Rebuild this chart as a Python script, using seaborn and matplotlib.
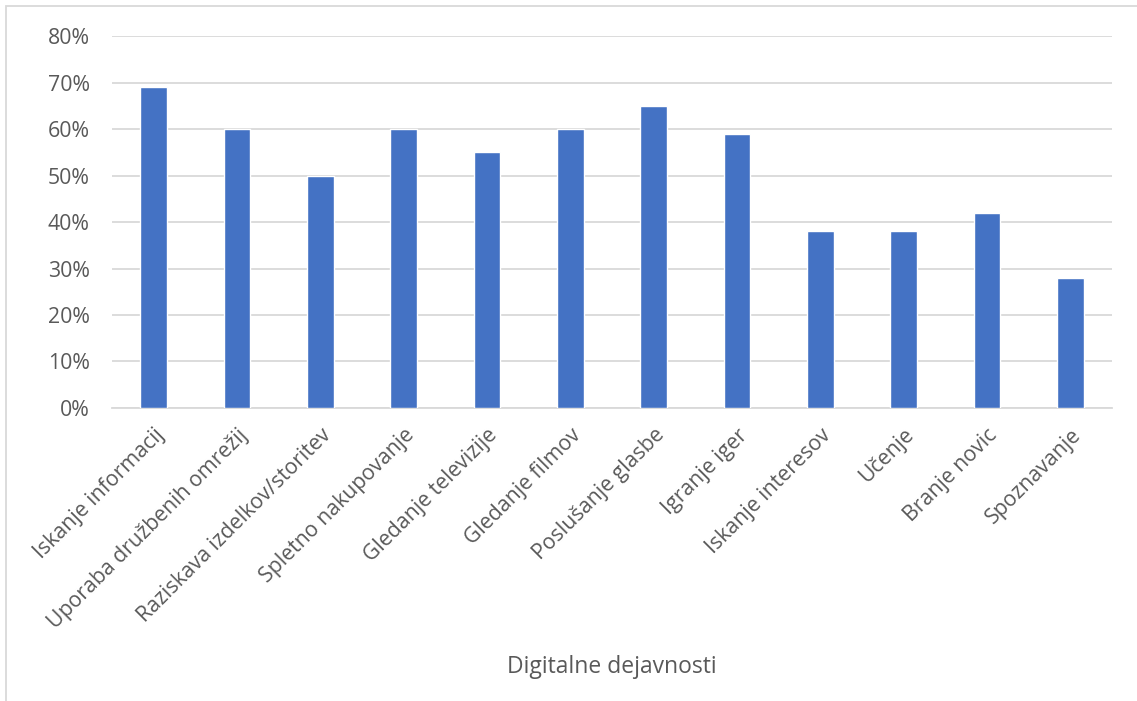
import matplotlib
matplotlib.use("Agg")
import matplotlib.pyplot as plt
import seaborn as sns
import pandas as pd
from matplotlib.patches import Rectangle
from matplotlib.ticker import PercentFormatter

categories = [
    "Iskanje informacij",
    "Uporaba družbenih omrežij",
    "Raziskava izdelkov/storitev",
    "Spletno nakupovanje",
    "Gledanje televizije",
    "Gledanje filmov",
    "Poslušanje glasbe",
    "Igranje iger",
    "Iskanje interesov",
    "Učenje",
    "Branje novic",
    "Spoznavanje",
]
shares = [0.69, 0.60, 0.50, 0.60, 0.55, 0.60, 0.65, 0.59, 0.38, 0.38, 0.42, 0.28]
y_ticks = [0.0, 0.1, 0.2, 0.3, 0.4, 0.5, 0.6, 0.7, 0.8]

sns.set_theme(style="white")
plt.rcParams["font.family"] = ["Open Sans", "DejaVu Sans"]

text_color = "#595959"
grid_color = "#d9d9d9"
bar_color = "#4472C4"

df = pd.DataFrame({"activity": categories, "share": shares})

fig = plt.figure(figsize=(11.37, 7.01), dpi=100)
ax = fig.add_axes([0.0985, 0.418, 0.8795, 0.5305])

sns.barplot(data=df, x="activity", y="share", color=bar_color,
            width=0.32, saturation=1, ax=ax, zorder=3)

ax.set_ylim(0, 0.8)
ax.set_yticks(y_ticks)
ax.yaxis.set_major_formatter(PercentFormatter(1.0, decimals=0))
ax.set_xlim(-0.5, len(categories) - 0.5)
ax.grid(axis="y", color=grid_color, linewidth=1.3, zorder=0)
ax.grid(axis="x", visible=False)
for side in ["top", "right", "left"]:
    ax.spines[side].set_visible(False)
ax.spines["bottom"].set_color(grid_color)
ax.spines["bottom"].set_linewidth(1.3)
ax.tick_params(axis="both", length=0, colors=text_color, labelsize=15.3)
ax.tick_params(axis="y", pad=16)
ax.tick_params(axis="x", pad=12)

plt.setp(ax.get_xticklabels(), rotation=45, ha="right", rotation_mode="anchor")

ax.set_ylabel("")
ax.set_xlabel("Digitalne dejavnosti", fontsize=16.5, color=text_color, labelpad=0)
ax.xaxis.set_label_coords(0.5, -0.665)

# light outer frame of the chart area
fig.patches.append(Rectangle((6 / 1137, -0.05), 1.2, 1 - 6 / 701 + 0.05,
                             transform=fig.transFigure, fill=False,
                             edgecolor="#d9d9d9", linewidth=1.3))

fig.savefig("out.png", dpi=100, facecolor="white")
